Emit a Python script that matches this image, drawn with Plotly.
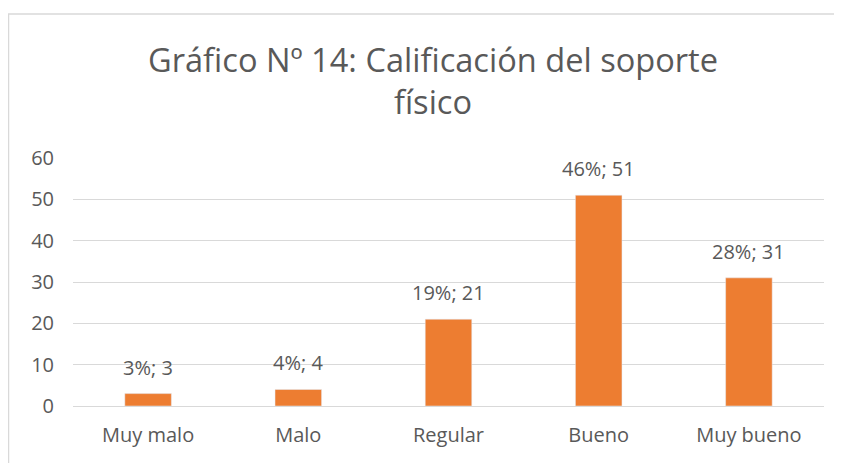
import plotly.graph_objects as go

categories = ["Muy malo", "Malo", "Regular", "Bueno", "Muy bueno"]
values = [3, 4, 21, 51, 31]
percents = ["3%", "4%", "19%", "46%", "28%"]
labels = [f"{p}; {v}" for p, v in zip(percents, values)]

OFF = 8  # default page body margin
W, H = 842 - OFF, 463 - OFF
L, R, T, B = 73 - OFF, 18, 158 - OFF, 57
pw = W - L - R
ph = H - T - B

font = "Open Sans, Liberation Sans, sans-serif"
txt = "#595959"

fig = go.Figure(go.Bar(
    x=categories, y=values,
    marker_color="#ED7D31",
    hoverinfo="x+y",
))

annotations = [dict(
    x=c, y=v, xref="x", yref="y", text=t, showarrow=False,
    yanchor="bottom", yshift=11,
    font=dict(size=20, color=txt, family=font),
) for c, v, t in zip(categories, values, labels)]

annotations.append(dict(
    text="Gráfico Nº 14: Calificación del soporte<br>físico",
    xref="paper", yref="paper",
    x=(432.5 - OFF - L) / pw, y=(H - B - (80 - OFF)) / ph,
    xanchor="center", yanchor="middle", showarrow=False,
    font=dict(size=32.6, color=txt, family=font),
))

fig.update_layout(
    width=W, height=H,
    margin=dict(l=L, r=R, t=T, b=B),
    paper_bgcolor="white", plot_bgcolor="white",
    bargap=0.69,
    showlegend=False,
    font=dict(family=font, color=txt, size=20),
    xaxis=dict(showgrid=False, showline=True, linecolor="#D9D9D9", linewidth=1,
               ticks="", ticklabelstandoff=11,
               tickfont=dict(size=20, color=txt)),
    yaxis=dict(range=[0, 60], dtick=10, showgrid=True, gridcolor="#D9D9D9",
               gridwidth=1, zeroline=False, ticks="", ticklabelstandoff=18,
               tickfont=dict(size=20, color=txt)),
    annotations=annotations,
    shapes=[dict(
        type="rect", xref="paper", yref="paper",
        x0=(0.5 - L) / pw, x1=(W + 5 - L) / pw,
        y0=(H - B - (H + 5)) / ph, y1=(H - B - 6) / ph,
        line=dict(color="#D9D9D9", width=1.5), layer="below",
    )],
)

fig.write_html("out.html")
